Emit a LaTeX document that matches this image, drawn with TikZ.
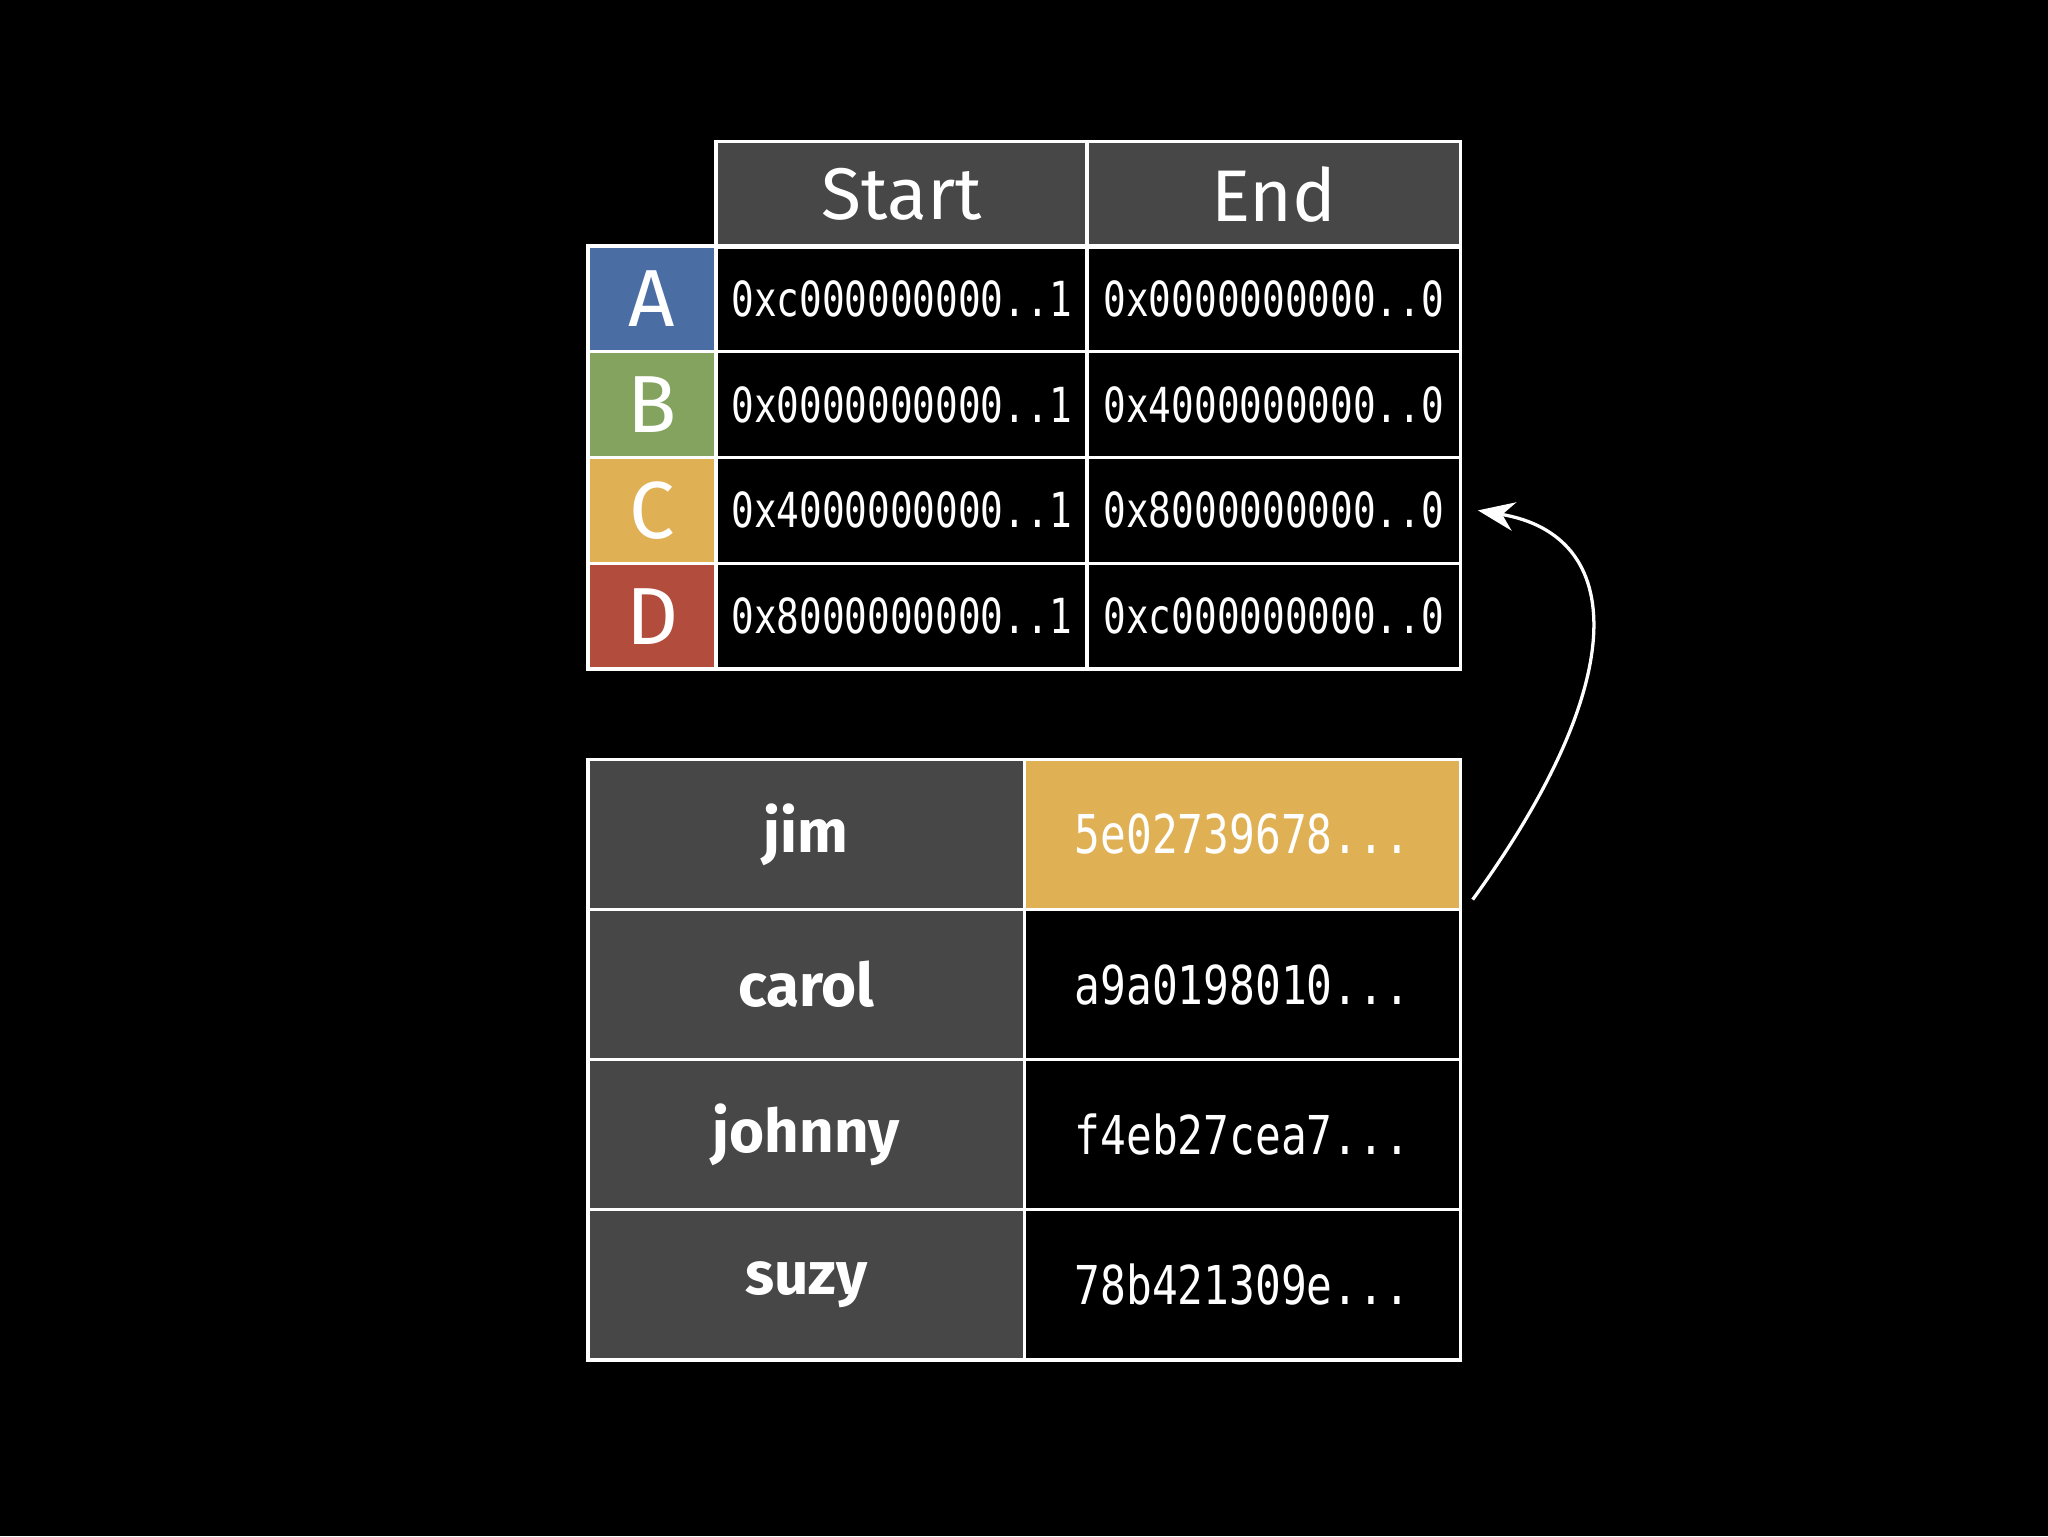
\documentclass[tikz,border=0pt]{standalone}
\usepackage{fontspec}
\setmainfont{Fira Sans}
\setmonofont{DejaVu Sans Mono}
\usetikzlibrary{arrows.meta}
\definecolor{hdr}{HTML}{474747}
\definecolor{cA}{HTML}{4A6DA3}
\definecolor{cB}{HTML}{84A35E}
\definecolor{cC}{HTML}{E0B154}
\definecolor{cD}{HTML}{B24C3D}
\newcommand{\monoA}[1]{\scalebox{0.78}[1]{\fontsize{37}{37}\selectfont\ttfamily #1}}
\newcommand{\monoB}[1]{\scalebox{0.8}[1]{\fontsize{41}{41}\selectfont\ttfamily #1}}
\begin{document}
\begin{tikzpicture}[x=1pt,y=-1pt,
  cell/.style={draw=white,line width=2.5pt,text=white,inner sep=0pt,anchor=north west},
  tcell/.style={cell,minimum height=81pt},
  bcell/.style={cell,minimum height=115pt,minimum width=334pt},
  lab/.style={tcell,minimum width=98pt,font=\fontsize{62}{62}\selectfont},
  hd/.style={tcell,fill=hdr,font=\fontsize{56}{56}\selectfont},
  nm/.style={bcell,fill=hdr,font=\fontsize{46}{46}\selectfont\bfseries}]
\fill[black] (0,0) rectangle (1568,1176);
\useasboundingbox (0,0) rectangle (1568,1176);
\node[hd,minimum width=284pt] (hs) at (547,107) {Start};
\node[hd,minimum width=286pt] (he) at (831,107) {End};
\foreach \r/\c/\s/\e [count=\i from 0] in {A/cA/{0xc000000000..1}/{0x0000000000..0},
  B/cB/{0x0000000000..1}/{0x4000000000..0}, C/cC/{0x4000000000..1}/{0x8000000000..0},
  D/cD/{0x8000000000..1}/{0xc000000000..0}}{
  \node[lab,fill=\c] (l\r) at (449,187+81*\i) {\r};
  \node[tcell,minimum width=284pt] (s\r) at (547,187+81*\i) {\monoA{\s}};
  \node[tcell,minimum width=286pt] (e\r) at (831,187+81*\i) {\monoA{\e}};
}
\foreach \n/\h/\f [count=\i from 0] in {jim/{5e02739678...}/cC, carol/{a9a0198010...}/black,
  johnny/{f4eb27cea7...}/black, suzy/{78b421309e...}/black}{
  \node[nm] (n\n) at (449,580+115*\i) {\n};
  \node[bcell,fill=\f] (h\n) at (783,580+115*\i) {\monoB{\h}};
}
\draw[white,line width=2.5pt,-{Stealth[length=28pt,width=22pt]}]
  ([xshift=8pt,yshift=-50pt]hjim.east) .. controls (1250,520) and (1245,410) .. ([xshift=12pt]eC.east);
\end{tikzpicture}
\end{document}
